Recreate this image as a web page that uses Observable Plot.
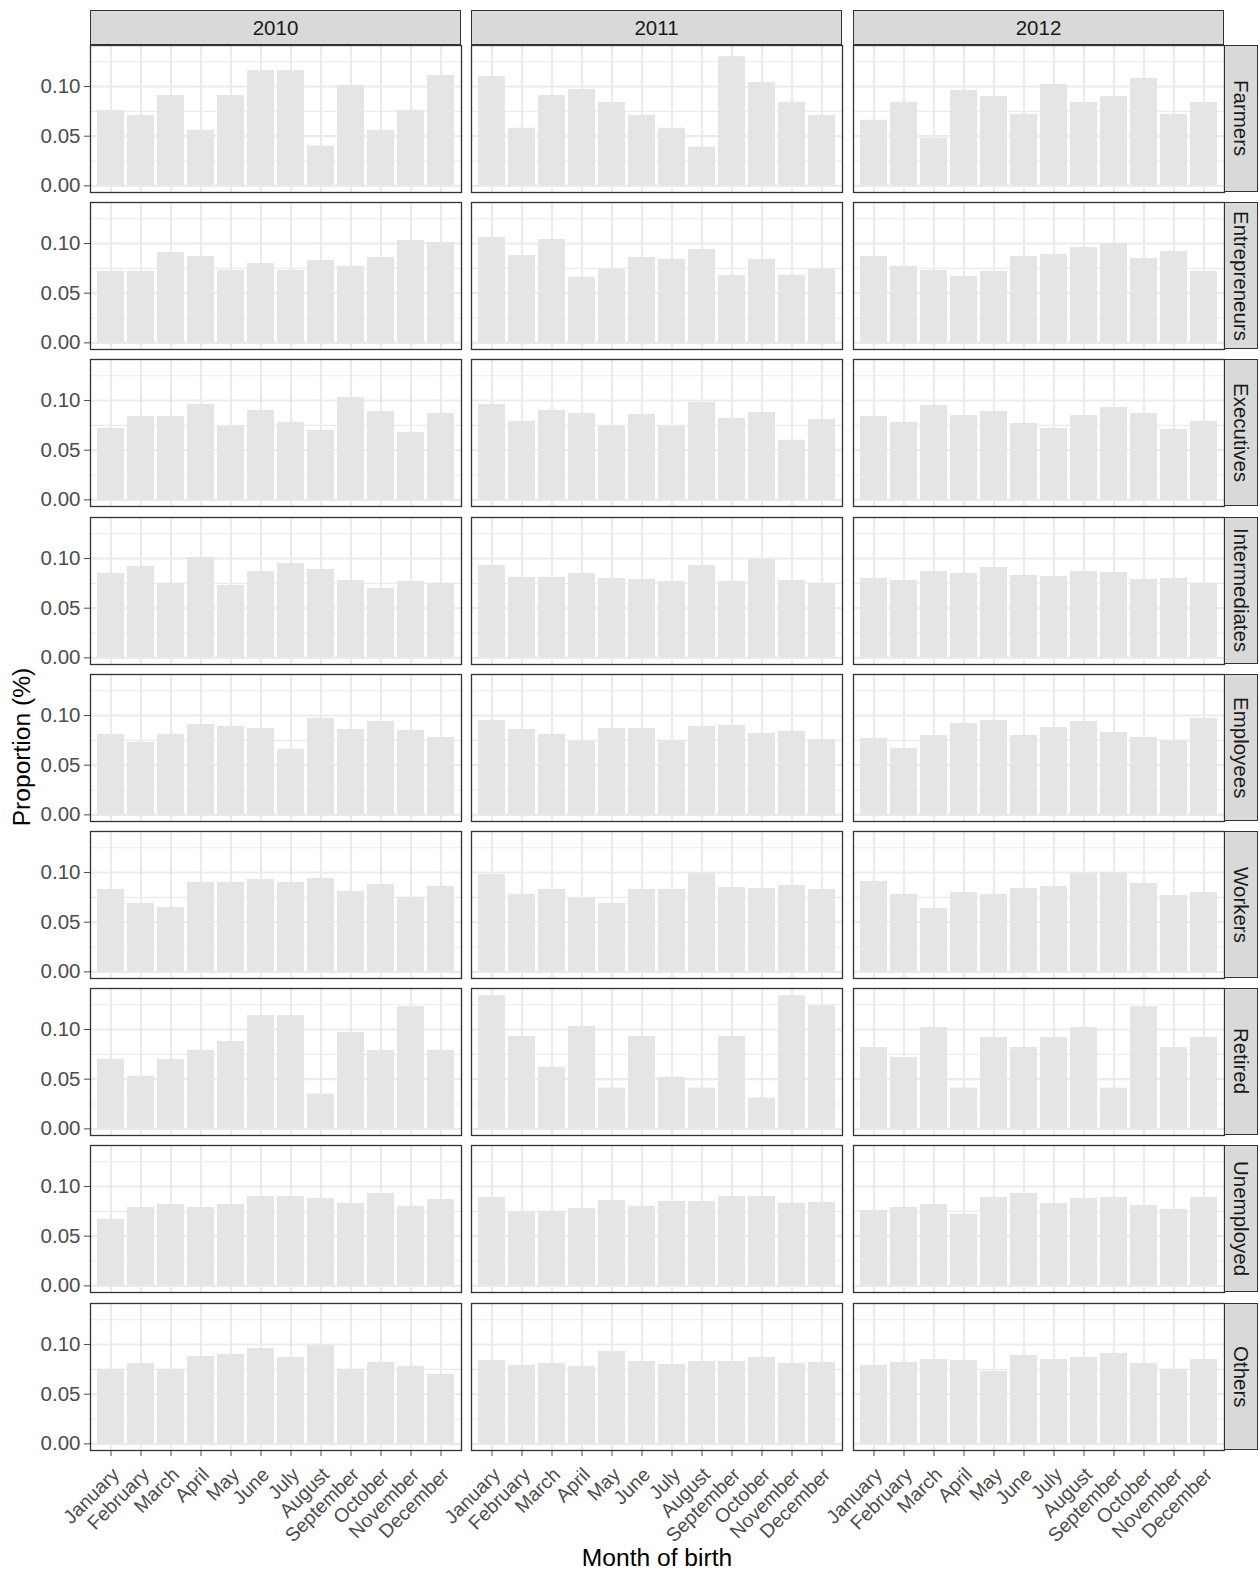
<!DOCTYPE html>
<html><head><meta charset="utf-8">
<script src="https://cdn.jsdelivr.net/npm/d3@7"></script>
<script src="https://cdn.jsdelivr.net/npm/@observablehq/plot@0.6"></script>
<style>
body{margin:0;background:#fff;}
#chart{position:relative;width:1260px;height:1575px;font-family:"Liberation Sans",Arial,Helvetica,sans-serif;overflow:hidden;}
#chart svg{position:absolute;overflow:visible;}
.strip{position:absolute;background:#D9D9D9;border:1.2px solid #333;box-sizing:border-box;color:#1A1A1A;font-size:20.5px;display:flex;align-items:center;justify-content:center;}
.strip.v span{writing-mode:vertical-rl;}
.title{position:absolute;color:#000;font-size:24.6px;white-space:nowrap;transform:translate(-50%,-50%);}
</style></head><body><div id="chart"></div>
<script>
const months = ["January","February","March","April","May","June","July","August","September","October","November","December"];
const years = ["2010","2011","2012"];
const categories = ["Farmers","Entrepreneurs","Executives","Intermediates","Employees","Workers","Retired","Unemployed","Others"];

// each: [2010 values, 2011 values, 2012 values], January..December
const farmers = [
  [0.076,0.071,0.091,0.056,0.091,0.116,0.116,0.040,0.101,0.056,0.076,0.111],
  [0.110,0.058,0.091,0.097,0.084,0.071,0.058,0.039,0.130,0.104,0.084,0.071],
  [0.066,0.084,0.048,0.096,0.090,0.072,0.102,0.084,0.090,0.108,0.072,0.084]];
const entrepreneurs = [
  [0.072,0.072,0.091,0.087,0.073,0.080,0.073,0.083,0.077,0.086,0.103,0.101],
  [0.106,0.088,0.104,0.066,0.074,0.086,0.084,0.094,0.068,0.084,0.068,0.074],
  [0.087,0.077,0.073,0.067,0.072,0.087,0.089,0.096,0.100,0.085,0.092,0.072]];
const executives = [
  [0.072,0.084,0.084,0.096,0.074,0.090,0.078,0.070,0.103,0.089,0.068,0.087],
  [0.096,0.079,0.090,0.087,0.074,0.086,0.074,0.098,0.082,0.088,0.060,0.081],
  [0.084,0.078,0.095,0.085,0.089,0.077,0.072,0.085,0.093,0.087,0.071,0.079]];
const intermediates = [
  [0.085,0.092,0.075,0.101,0.073,0.087,0.095,0.089,0.078,0.070,0.077,0.075],
  [0.093,0.081,0.081,0.085,0.080,0.079,0.077,0.093,0.077,0.099,0.078,0.075],
  [0.080,0.078,0.087,0.085,0.091,0.083,0.082,0.087,0.086,0.079,0.080,0.075]];
const employees = [
  [0.081,0.073,0.081,0.091,0.089,0.087,0.066,0.097,0.086,0.094,0.085,0.078],
  [0.095,0.086,0.081,0.074,0.087,0.087,0.075,0.089,0.090,0.082,0.084,0.076],
  [0.077,0.067,0.080,0.092,0.095,0.080,0.088,0.094,0.083,0.078,0.075,0.097]];
const workers = [
  [0.083,0.069,0.065,0.090,0.090,0.093,0.090,0.094,0.081,0.088,0.075,0.086],
  [0.098,0.078,0.083,0.074,0.069,0.083,0.083,0.099,0.085,0.084,0.087,0.083],
  [0.091,0.078,0.064,0.080,0.078,0.084,0.086,0.099,0.100,0.089,0.077,0.080]];
const retired = [
  [0.070,0.053,0.070,0.079,0.088,0.114,0.114,0.035,0.097,0.079,0.123,0.079],
  [0.134,0.093,0.062,0.103,0.041,0.093,0.052,0.041,0.093,0.031,0.134,0.124],
  [0.082,0.072,0.102,0.041,0.092,0.082,0.092,0.102,0.041,0.123,0.082,0.092]];
const unemployed = [
  [0.067,0.079,0.082,0.079,0.082,0.090,0.090,0.088,0.083,0.093,0.080,0.087],
  [0.089,0.074,0.075,0.078,0.086,0.080,0.085,0.085,0.090,0.090,0.083,0.084],
  [0.076,0.079,0.082,0.072,0.089,0.093,0.083,0.088,0.089,0.081,0.077,0.089]];
const others = [
  [0.075,0.081,0.075,0.088,0.090,0.096,0.087,0.099,0.075,0.082,0.078,0.070],
  [0.084,0.079,0.081,0.078,0.093,0.083,0.080,0.083,0.083,0.087,0.081,0.082],
  [0.079,0.082,0.085,0.084,0.073,0.089,0.085,0.087,0.091,0.081,0.075,0.085]];

const yTicks = [0, 0.05, 0.10];
const yMinor = [0.025, 0.075, 0.125];
const yDomain = [-0.0067, 0.1413];

const series = [farmers, entrepreneurs, executives, intermediates, employees, workers, retired, unemployed, others];

const chart = document.getElementById("chart");
const colLeft = [90, 471, 853];
const PW = 371, PH = 147, PITCH = 157.2, TOP = 45;
const font = '"Liberation Sans", Arial, Helvetica, sans-serif';

categories.forEach((cat, r) => {
  const top = Math.round(TOP + r * PITCH);
  years.forEach((yr, c) => {
    const data = months.map((m, i) => ({month: m, value: series[r][c][i]}));
    const ml = c === 0 ? 90 : 0;
    const last = r === categories.length - 1;
    const mb = last ? 130 : 0;
    const marks = [
      Plot.ruleY(yMinor, {stroke: "#EBEBEB", strokeWidth: 1.1}),
      Plot.ruleY(yTicks, {stroke: "#EBEBEB", strokeWidth: 2.2}),
      Plot.ruleX(months, {stroke: "#EBEBEB", strokeWidth: 2.2}),
      Plot.barY(data, {x: "month", y: "value", fill: "#E5E5E5"}),
      Plot.frame({stroke: "#333333", strokeWidth: 1.3})
    ];
    if (last) {
      marks.push(Plot.text(months, {x: d => d, frameAnchor: "bottom", rotate: -45, textAnchor: "end",
        lineAnchor: "middle", dx: 5, dy: 21, fontSize: 19.5, fill: "#4D4D4D"}));
    }
    const svg = Plot.plot({
      width: PW + ml, height: PH + mb,
      marginLeft: ml, marginRight: 0, marginTop: 0, marginBottom: mb,
      style: {fontFamily: font, fontSize: "20.5px", color: "#4D4D4D", background: "transparent", overflow: "visible"},
      x: {type: "band", domain: months, paddingInner: 0.1, paddingOuter: 0.15,
          axis: last ? "bottom" : null, tickSize: 6, tickFormat: () => "", label: null},
      y: {domain: yDomain, axis: ml ? "left" : null, ticks: yTicks, tickFormat: d3.format(".2f"),
          tickSize: 6, tickPadding: 4, label: null},
      marks
    });
    svg.style.left = (colLeft[c] - ml) + "px";
    svg.style.top = top + "px";
    chart.appendChild(svg);
  });
  const s = document.createElement("div");
  s.className = "strip v";
  s.style.left = (colLeft[2] + PW) + "px";
  s.style.top = top + "px";
  s.style.width = "34px";
  s.style.height = PH + "px";
  s.innerHTML = `<span>${cat}</span>`;
  chart.appendChild(s);
});

years.forEach((yr, c) => {
  const s = document.createElement("div");
  s.className = "strip";
  s.style.left = colLeft[c] + "px";
  s.style.top = "10px";
  s.style.width = PW + "px";
  s.style.height = "35px";
  s.textContent = yr;
  chart.appendChild(s);
});

const xt = document.createElement("div");
xt.className = "title";
xt.style.left = "657px"; xt.style.top = "1558px";
xt.textContent = "Month of birth";
chart.appendChild(xt);

const yt = document.createElement("div");
yt.className = "title";
yt.style.left = "22px"; yt.style.top = "747px";
yt.style.transform = "translate(-50%,-50%) rotate(-90deg)";
yt.textContent = "Proportion (%)";
chart.appendChild(yt);
</script></body></html>
